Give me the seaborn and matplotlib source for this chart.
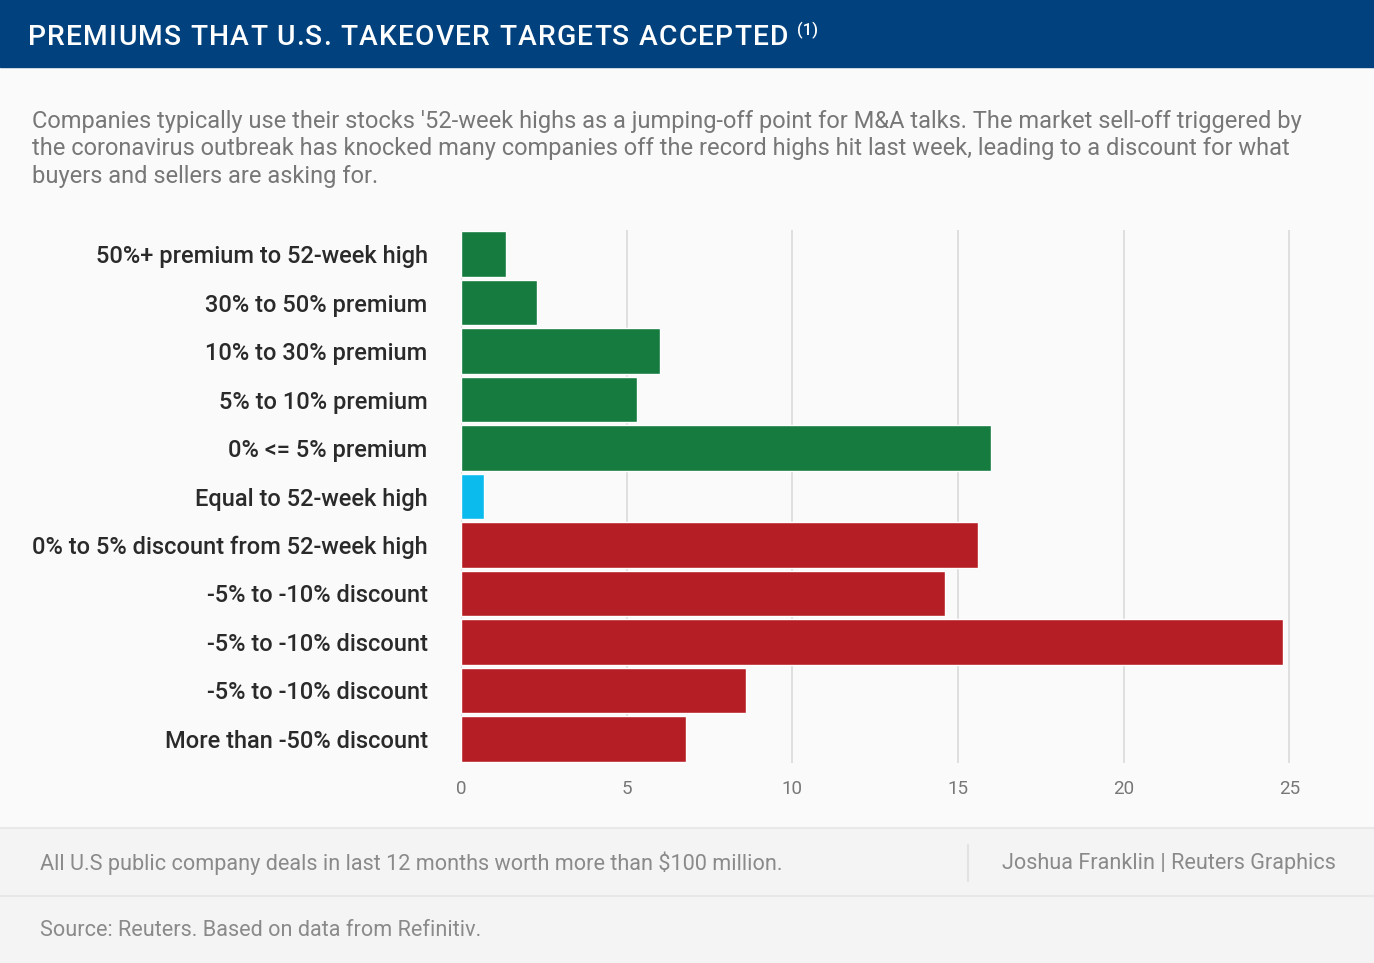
import matplotlib
matplotlib.use("Agg")
import matplotlib.pyplot as plt
import pandas as pd
import seaborn as sns
from matplotlib.patches import Rectangle
from matplotlib.lines import Line2D

W, H = 1374, 963

# keys keep the repeated labels apart; labels are what is shown
keys = ["p50", "p30", "p10", "p5", "p0", "eq", "d0", "d5a", "d5b", "d5c", "d50"]
labels = [
    "50%+ premium to 52-week high",
    "30% to 50% premium",
    "10% to 30% premium",
    "5% to 10% premium",
    "0% <= 5% premium",
    "Equal to 52-week high",
    "0% to 5% discount from 52-week high",
    "-5% to -10% discount",
    "-5% to -10% discount",
    "-5% to -10% discount",
    "More than -50% discount",
]
values = [1.35, 2.3, 6.0, 5.3, 16.0, 0.7, 15.6, 14.6, 24.8, 8.6, 6.8]
groups = ["premium"] * 5 + ["equal"] + ["discount"] * 5
group_colours = {"premium": "#167b3f", "equal": "#0bbbee", "discount": "#b61e26"}
x_ticks = [0, 5, 10, 15, 20, 25]

TITLE = "PREMIUMS THAT U.S. TAKEOVER TARGETS ACCEPTED"
SUBTITLE = ("Companies typically use their stocks '52-week highs as a jumping-off point for M&A talks. The market sell-off triggered by\n"
            "the coronavirus outbreak has knocked many companies off the record highs hit last week, leading to a discount for what\n"
            "buyers and sellers are asking for.")
NOTE = "All U.S public company deals in last 12 months worth more than $100 million."
CREDIT = "Joshua Franklin | Reuters Graphics"
SOURCE = "Source: Reuters. Based on data from Refinitiv."

sns.set_theme(style="white")
plt.rcParams["font.family"] = ["Roboto", "DejaVu Sans"]

fig = plt.figure(figsize=(W / 100, H / 100), dpi=100)
fig.patch.set_facecolor("#fafafa")
renderer = fig.canvas.get_renderer()


def fx(px):
    return px / W


def fy(py):
    return 1 - py / H


def tracked_text(x0, x1, y, s, **kw):
    """Spread the letters of s so they run from pixel x0 to x1."""
    def width(t):
        probe = fig.text(0, 0, t + "|", **kw)
        bar = fig.text(0, 0, "|", **kw)
        w = probe.get_window_extent(renderer).width - bar.get_window_extent(renderer).width
        probe.remove()
        bar.remove()
        return w
    natural = width(s)
    extra = (x1 - x0 - natural) / (len(s) - 1)
    for i, ch in enumerate(s):
        if ch == " ":
            continue
        fig.text(fx(x0 + width(s[:i]) + i * extra), fy(y), ch, ha="left", va="baseline", **kw)


# header band and footer panels
fig.add_artist(Rectangle((0, fy(67)), 1, 67 / H, transform=fig.transFigure, color="#01417e", zorder=0))
fig.add_artist(Rectangle((0, 0), 1, fy(828), transform=fig.transFigure, color="#f4f4f4", zorder=0))
fig.add_artist(Line2D([0, 1], [fy(828), fy(828)], transform=fig.transFigure, color="#e8e8e8", lw=1.5))
fig.add_artist(Line2D([0, 1], [fy(896), fy(896)], transform=fig.transFigure, color="#e8e8e8", lw=1.5))
fig.add_artist(Line2D([fx(968), fx(968)], [fy(845), fy(881)], transform=fig.transFigure, color="#e2e2e2", lw=1.5))

tracked_text(28, 788, 45, TITLE, color="white", fontsize=20.3, fontweight="medium")
fig.text(fx(797), fy(30), "(1)", color="white", fontsize=12, fontweight="medium",
         va="center", ha="left")
fig.text(fx(32), fy(110), SUBTITLE, color="#777777", fontsize=17, va="top", ha="left",
         linespacing=1.25)
fig.text(fx(40), fy(863), NOTE, color="#8a8a8a", fontsize=15.6, va="center", ha="left")
fig.text(fx(1336), fy(863), CREDIT, color="#8a8a8a", fontsize=15.6, va="center", ha="right")
fig.text(fx(40), fy(930), SOURCE, color="#8a8a8a", fontsize=15.6, va="center", ha="left")

df = pd.DataFrame({"key": keys, "value": values, "group": groups})

ax = fig.add_axes([fx(461), fy(763), (1291 - 461) / W, (763 - 230) / H])
ax.set_facecolor("none")
sns.barplot(data=df, x="value", y="key", hue="group", palette=group_colours,
            order=keys, width=0.94, dodge=False, legend=False, saturation=1,
            ax=ax, zorder=3)
ax.set_xlim(0, 25.05)
ax.set_xticks(x_ticks)
ax.set_yticks(range(len(keys)))
ax.set_yticklabels(labels)
ax.set_xlabel("")
ax.set_ylabel("")
ax.grid(axis="x", color="#dddddd", lw=1.3, zorder=0)
ax.grid(axis="y", visible=False)
for s in ax.spines.values():
    s.set_visible(False)
ax.tick_params(axis="y", length=0, pad=24, labelsize=17, labelcolor="#2a2a2a")
ax.tick_params(axis="x", length=0, pad=12, labelsize=13.5, labelcolor="#777777")
for lbl in ax.get_yticklabels():
    lbl.set_fontweight("medium")

fig.savefig("out.png", dpi=100, facecolor=fig.get_facecolor())
